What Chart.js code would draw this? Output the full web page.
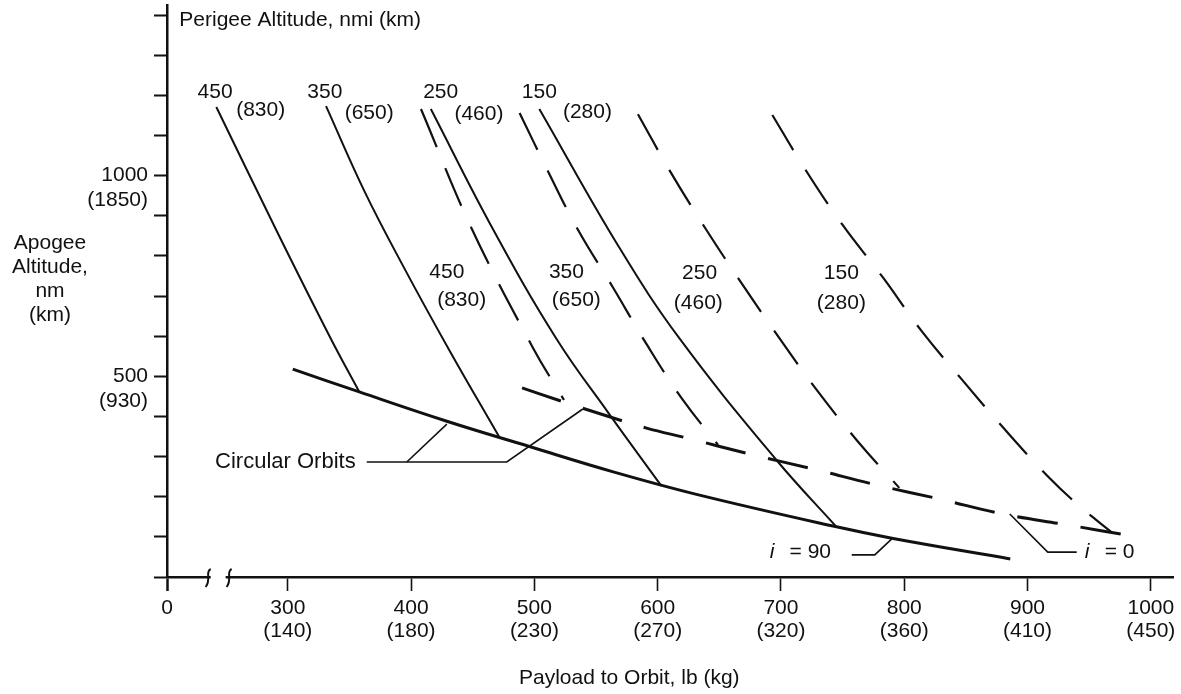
<!DOCTYPE html>
<html>
<head>
<meta charset="utf-8">
<title>Payload to Orbit</title>
<script src="https://cdn.jsdelivr.net/npm/chart.js@4.4.1/dist/chart.umd.min.js"></script>
<style>
  html, body { margin: 0; padding: 0; background: #fff; }
  #wrap { width: 1181px; height: 694px; }
</style>
</head>
<body>
<div id="wrap"><canvas id="orbitChart" width="1181" height="694"></canvas></div>
<script>
// payload axis, lb with kg underneath (0 sits left of the axis break)
const payloadTicks = [0, 300, 400, 500, 600, 700, 800, 900, 1000];
const payloadKg = [null, 140, 180, 230, 270, 320, 360, 410, 450];

// apogee axis, nmi, minor ticks every 100, labels at 500 and 1000
const apogeeTicks = [0, 100, 200, 300, 400, 500, 600, 700, 800, 900, 1000, 1100, 1200, 1300, 1400];
const apogeeLabels = { 500: ['500', '(930)'], 1000: ['1000', '(1850)'] };

// perigee altitude of each family of curves
const perigeeNmi = [450, 350, 250, 150];
const perigeeKm = [830, 650, 460, 280];

// i = 90 curves, [payload lb, apogee nmi]
const polar450 = [[242, 1171], [291, 862], [335, 593], [358, 461]];
const polar350 = [[331, 1173], [362, 962], [394, 772], [431, 565], [472, 346]];
const polar250 = [[416, 1166], [466, 869], [518, 593], [560, 409], [603, 227]];
const polar150 = [[504, 1166], [569, 820], [618, 593], [697, 289], [745, 125]];
const polarCircular = [[304, 518], [358, 461], [429, 388], [496, 325], [564, 262], [634, 204], [745, 125], [791, 96], [886, 45]];

// i = 0 curves
const equat450 = [[408, 1166], [449, 869], [499, 570], [524, 441]];
const equat350 = [[488, 1156], [511, 1011], [535, 867], [564, 720], [591, 580], [620, 443], [649, 329]];
const equat250 = [[584, 1153], [610, 1011], [638, 872], [668, 732], [698, 598], [729, 466], [762, 339], [796, 222]];
const equat150 = [[693, 1151], [720, 1014], [750, 877], [783, 745], [814, 613], [847, 491], [882, 366], [917, 249], [942, 177], [968, 112]];
const equatCircular = [[490, 471], [522, 438], [559, 401], [591, 371], [624, 346], [675, 306], [726, 269], [778, 229], [829, 194], [880, 157], [932, 130], [985, 102]];

// where the annotations sit, in axis units
const topLabelSpots = [[[241, 1208], [278, 1163]], [[330, 1208], [366, 1156]], [[424, 1208], [455, 1153]], [[504, 1208], [543, 1158]]];
const midLabelSpots = [[[429, 760], [441, 690]], [[526, 760], [534, 690]], [[634, 757], [633, 683]], [[749, 757], [749, 683]]];
const circLeader = [[364, 286.5], [477.6, 286.5], [539.3, 418.5]];
const circBranch = [[396.5, 286.5], [429, 381]];
const polarLeader = [[757.4, 55], [776.1, 55], [789.9, 95]];
const equatLeader = [[885.6, 157], [916.4, 62], [939.9, 62]];
const breakMarks = [235, 252];

const ink = '#111';
const family = '"Liberation Sans", Arial, Helvetica, sans-serif';

function curve(points, dashed, width) {
    return {
        data: points.map(p => ({ x: p[0], y: p[1] })),
        showLine: true,
        borderColor: ink,
        borderWidth: width,
        borderDash: dashed ? [41, 23] : [],
        pointRadius: 0,
        tension: 0.4,
        fill: false,
    };
}

const decorations = {
    id: 'decorations',
    afterDraw(chart) {
        const { ctx, scales: { x, y } } = chart;
        const px = v => x.getPixelForValue(v);
        const py = v => y.getPixelForValue(v);
        ctx.save();

        // axis break
        const by = y.bottom;
        ctx.fillStyle = '#fff';
        ctx.fillRect(px(breakMarks[0]) + 3, by - 4, px(breakMarks[1]) - px(breakMarks[0]) - 6, 8);
        ctx.strokeStyle = ink;
        ctx.lineWidth = 2;
        breakMarks.forEach(b => {
            const bx = px(b);
            ctx.beginPath();
            ctx.moveTo(bx + 3, by - 8);
            ctx.bezierCurveTo(bx - 3, by - 5, bx + 4, by + 2, bx - 2, by + 10);
            ctx.stroke();
        });

        // leader lines
        ctx.lineWidth = 1.6;
        [circLeader, circBranch, polarLeader, equatLeader].forEach(line => {
            ctx.beginPath();
            line.forEach((p, i) => i ? ctx.lineTo(px(p[0]), py(p[1])) : ctx.moveTo(px(p[0]), py(p[1])));
            ctx.stroke();
        });

        ctx.fillStyle = ink;
        ctx.font = '21px ' + family;
        ctx.textBaseline = 'middle';
        ctx.textAlign = 'center';
        perigeeNmi.forEach((nmi, i) => {
            const t = topLabelSpots[i], m = midLabelSpots[i];
            ctx.fillText(String(nmi), px(t[0][0]), py(t[0][1]));
            ctx.fillText('(' + perigeeKm[i] + ')', px(t[1][0]), py(t[1][1]));
            ctx.fillText(String(nmi), px(m[0][0]), py(m[0][1]));
            ctx.fillText('(' + perigeeKm[i] + ')', px(m[1][0]), py(m[1][1]));
        });

        ctx.textAlign = 'left';
        ctx.fillText('Perigee Altitude, nmi (km)', px(212), py(1388));
        ctx.fillText('= 90', px(707), py(62));
        ctx.fillText('= 0', px(962.6), py(62));

        ctx.textAlign = 'right';
        ctx.font = '22px ' + family;
        ctx.fillText('Circular Orbits', px(355), py(286.5));

        ctx.textAlign = 'left';
        ctx.font = 'italic 21px ' + family;
        ctx.fillText('i', px(691), py(62));
        ctx.fillText('i', px(946.4), py(62));

        // axis titles
        ctx.font = '21px ' + family;
        ctx.textAlign = 'center';
        ['Apogee', 'Altitude,', 'nm', '(km)'].forEach((s, i) => ctx.fillText(s, 50, 243 + i * 24));
        ctx.fillText('Payload to Orbit, lb (kg)', px(577), chart.height - 16);
        ctx.restore();
    }
};

new Chart(document.getElementById('orbitChart'), {
    type: 'scatter',
    data: {
        datasets: [
            curve(polar450, false, 2),
            curve(polar350, false, 2),
            curve(polar250, false, 2),
            curve(polar150, false, 2),
            curve(polarCircular, false, 3),
            curve(equat450, true, 2.2),
            curve(equat350, true, 2.2),
            curve(equat250, true, 2.2),
            curve(equat150, true, 2.2),
            curve(equatCircular, true, 3),
        ]
    },
    options: {
        responsive: false,
        animation: false,
        devicePixelRatio: 1,
        layout: { padding: { left: 0, right: 8, top: 5, bottom: 0 } },
        plugins: { legend: { display: false }, tooltip: { enabled: false } },
        scales: {
            x: {
                type: 'linear',
                min: 202,
                max: 1018,
                afterBuildTicks: s => { s.ticks = payloadTicks.map(v => ({ value: v === 0 ? s.min : v })); },
                afterFit: s => { s.height = 117; s.paddingLeft = 0; s.paddingRight = 0; },
                grid: {
                    drawOnChartArea: false,
                    tickLength: 14,
                    tickWidth: c => c.index === 0 ? 2.5 : 1.6,
                    tickColor: ink,
                },
                border: { color: ink, width: 2.5 },
                ticks: {
                    color: ink,
                    font: { family: family, size: 21, lineHeight: 1.1 },
                    padding: 6,
                    maxRotation: 0,
                    autoSkip: false,
                    callback: (v, i) => i === 0 ? '0' : [String(payloadTicks[i]), '(' + payloadKg[i] + ')'],
                },
            },
            y: {
                type: 'linear',
                min: 0,
                max: 1425,
                afterBuildTicks: s => { s.ticks = apogeeTicks.map(v => ({ value: v })); },
                afterFit: s => { s.width = 167; s.paddingTop = 0; s.paddingBottom = 0; },
                grid: {
                    drawOnChartArea: false,
                    tickLength: 13,
                    tickWidth: 2,
                    tickColor: ink,
                },
                border: { color: ink, width: 2.5 },
                ticks: {
                    color: ink,
                    font: { family: family, size: 21, lineHeight: 1.19 },
                    padding: 6,
                    labelOffset: 12,
                    autoSkip: false,
                    callback: v => apogeeLabels[v] || '',
                },
            },
        },
    },
    plugins: [decorations],
});
</script>
</body>
</html>
